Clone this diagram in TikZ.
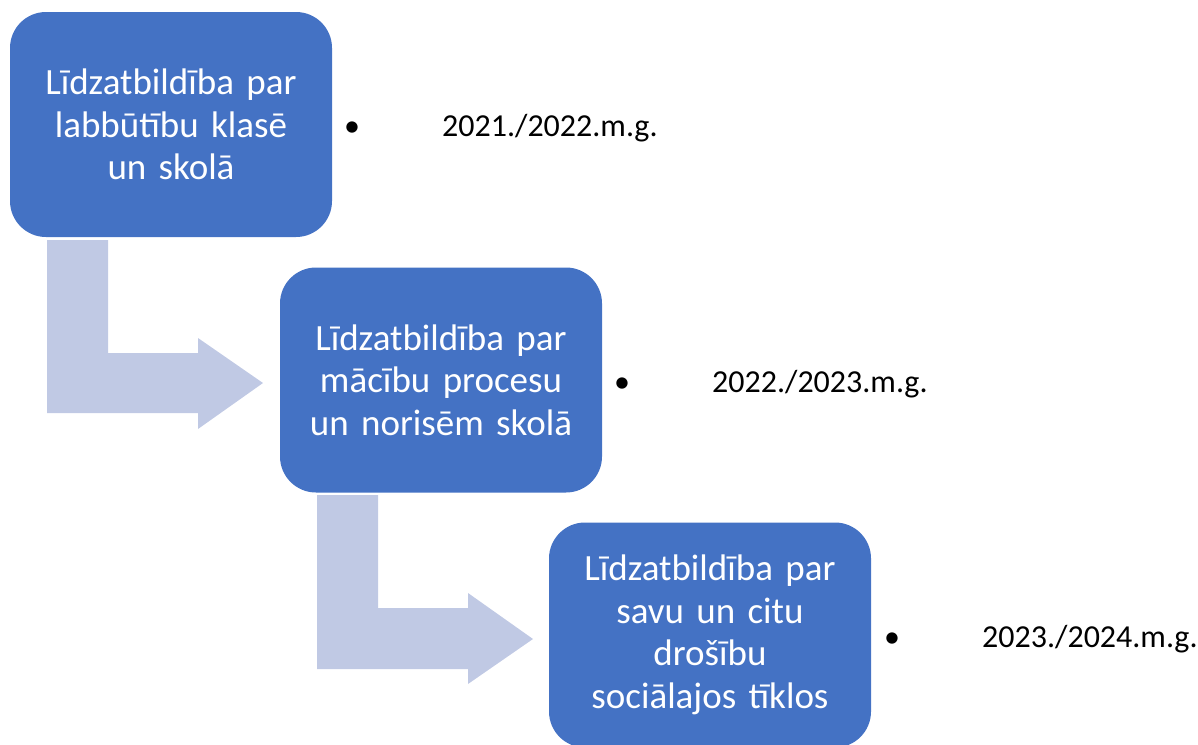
\documentclass[tikz,border=0pt]{standalone}
\usepackage{fontspec}
\setmainfont{Carlito}
\definecolor{stageblue}{RGB}{68,114,196}
\definecolor{arrowblue}{RGB}{192,201,228}

\begin{document}
\begin{tikzpicture}[x=1pt,y=-1pt,
        stage/.style={rectangle, rounded corners=36pt, fill=stageblue, text=white,
            minimum width=322pt, minimum height=225pt, text width=310pt, align=center,
            font=\fontsize{37}{42.5}\selectfont},
        year/.style={anchor=base west, inner sep=0pt, font=\fontsize{32}{42}\selectfont},
        dot/.style={anchor=base, inner sep=0pt, font=\fontsize{32}{42}\selectfont}]
        \useasboundingbox (0,0) rectangle (1198,744);
        % bent arrows behind the boxes
        \fill[arrowblue] (47,240) -- (108,240) -- (108,353) -- (198,353) -- (198,338)
            -- (263,383) -- (198,429) -- (198,413) -- (47,413) -- cycle;
        \fill[arrowblue] (317,495) -- (378,495) -- (378,608) -- (468,608) -- (468,593)
            -- (533,639) -- (468,684) -- (468,669) -- (317,669) -- cycle;
        \begin{scope}[every node/.style={stage}]
            \node (s1) at (171,124.5) {Līdzatbildība par\\labbūtību klasē\\un skolā};
            \node (s2) at (441,380) {Līdzatbildība par\\mācību procesu\\un norisēm skolā};
            \node (s3) at (710,635) {Līdzatbildība par\\savu un citu\\drošību\\sociālajos tīklos};
        \end{scope}
        \node[dot] (b1) at (352,136) {•};
        \node[year] (y1) at (442,136) {2021./2022.m.g.};
        \node[dot] (b2) at (622,392) {•};
        \node[year] (y2) at (712,392) {2022./2023.m.g.};
        \node[dot] (b3) at (892,647) {•};
        \node[year] (y3) at (982,647) {2023./2024.m.g.};
    \end{tikzpicture}
\end{document}
